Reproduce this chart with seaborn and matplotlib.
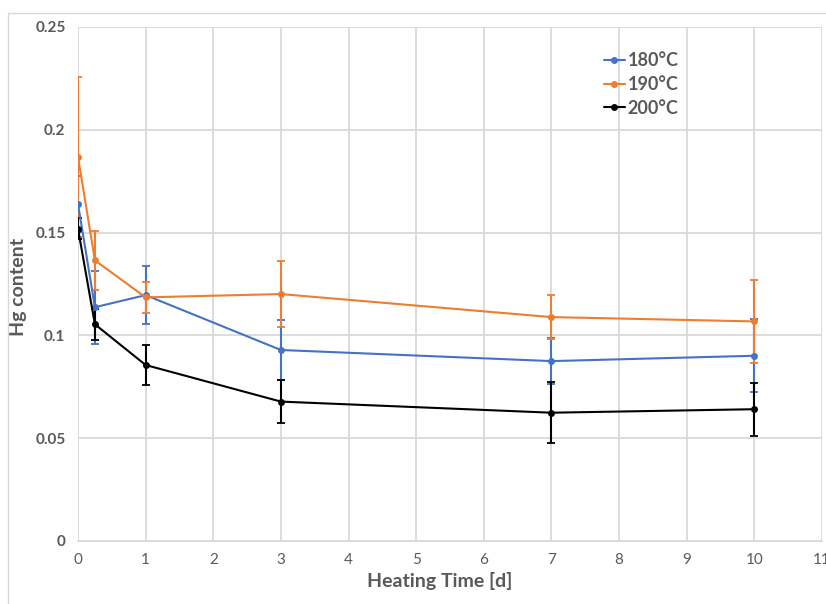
import matplotlib
matplotlib.use("Agg")
import matplotlib.pyplot as plt
import seaborn as sns
import pandas as pd
from matplotlib.patches import Rectangle

# ---- data ----
time_days = [0, 0.25, 1, 3, 7, 10]
series_labels = ["180°C", "190°C", "200°C"]
hg_180 = [0.1639, 0.1137, 0.1196, 0.0929, 0.0875, 0.0901]
err_180 = [0.0136, 0.0177, 0.0140, 0.0146, 0.0110, 0.0178]
hg_190 = [0.1868, 0.1365, 0.1185, 0.1201, 0.1089, 0.1068]
err_190 = [0.0390, 0.0144, 0.0077, 0.0160, 0.0107, 0.0203]
hg_200 = [0.1519, 0.1054, 0.0856, 0.0678, 0.0624, 0.0641]
err_200 = [0.0050, 0.0075, 0.0099, 0.0104, 0.0149, 0.0128]
x_ticks = list(range(0, 12))
y_ticks = [0, 0.05, 0.1, 0.15, 0.2, 0.25]
y_tick_labels = ["0", "0.05", "0.1", "0.15", "0.2", "0.25"]

colors = ["#4472C4", "#ED7D31", "#000000"]

rows = []
for lab, vals in zip(series_labels, [hg_180, hg_190, hg_200]):
    for t, v in zip(time_days, vals):
        rows.append({"time": t, "hg": v, "series": lab})
df = pd.DataFrame(rows)

sns.set_theme(style="white")
plt.rcParams["font.family"] = ["Lato", "DejaVu Sans"]

fig = plt.figure(figsize=(8.26, 6.04), dpi=100)
ax = fig.add_axes([78 / 826, 1 - 541 / 604, (822 - 78) / 826, (541 - 27) / 604])

# outer chart border
fig.patches.append(Rectangle((8 / 826, -0.1), 1.2, 1 - 13 / 604 + 0.1,
                             transform=fig.transFigure, fill=False,
                             edgecolor="#D9D9D9", linewidth=1.0, zorder=0))

# error bars
for vals, errs, c in zip([hg_180, hg_190, hg_200], [err_180, err_190, err_200], colors):
    ax.errorbar(time_days, vals, yerr=errs, fmt="none", ecolor=c,
                elinewidth=1.5, capsize=3, capthick=1.3, zorder=3)

sns.lineplot(data=df, x="time", y="hg", hue="series", palette=colors,
             marker="o", markersize=5, markeredgewidth=0, linewidth=1.5,
             ax=ax, zorder=4)

ax.set_xlim(0, 11)
ax.set_ylim(0, 0.25)
ax.set_xticks(x_ticks)
ax.set_xticklabels([str(t) for t in x_ticks])
ax.set_yticks(y_ticks)
ax.set_yticklabels(y_tick_labels)
ax.grid(True, color="#D9D9D9", linewidth=1.3)
ax.set_axisbelow(True)
for s in ["top", "right", "left"]:
    ax.spines[s].set_visible(False)
ax.spines["bottom"].set_color("#D9D9D9")
ax.spines["bottom"].set_linewidth(1.3)

ax.tick_params(axis="x", colors="#595959", labelsize=11, length=0, pad=9)
ax.tick_params(axis="y", colors="#595959", labelsize=11, length=0, pad=9)
for lbl in ax.get_yticklabels():
    lbl.set_fontweight("bold")

ax.set_xlabel("Heating Time [d]", fontsize=14, fontweight="bold", color="#595959")
ax.set_ylabel("Hg content", fontsize=14, fontweight="bold", color="#595959")
ax.xaxis.set_label_coords((440 - 78) / 744, (541 - 581) / 514)
ax.xaxis.label.set_va("center")
ax.yaxis.set_label_coords((19 - 78) / 744, (541 - 287) / 514)
ax.yaxis.label.set_va("center")

leg = ax.legend(loc="upper left", bbox_to_anchor=((604 - 78) / 744, (541 - 52) / 514),
                frameon=False, borderpad=0, borderaxespad=0,
                fontsize=13, handlelength=1.15, handletextpad=0.15, labelspacing=0.38,
                title=None)
for t in leg.get_texts():
    t.set_fontweight("bold")
    t.set_color("#595959")

fig.savefig("out.png", dpi=100)
